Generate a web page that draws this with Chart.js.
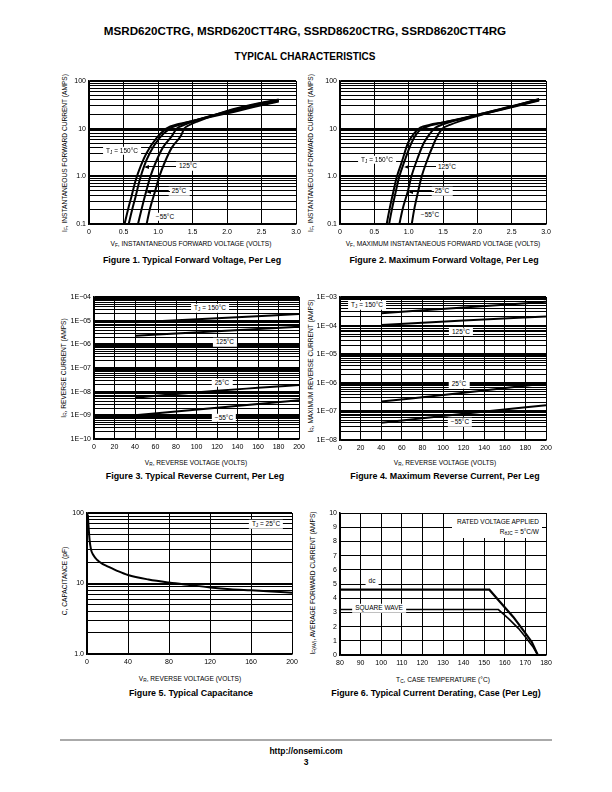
<!DOCTYPE html>
<html><head><meta charset="utf-8">
<script src="https://cdn.jsdelivr.net/npm/chart.js@4"></script>
<style>
body{margin:0;background:#fff;}
#page{position:relative;width:612px;height:792px;overflow:hidden;font-family:'Liberation Sans',Arial,sans-serif;color:#000;background:#fff;}
.t{position:absolute;white-space:nowrap;line-height:1;transform:translate(-50%,-50%);}
.r{transform:translate(-50%,-50%) rotate(-90deg);}
.ax{font-size:6.6px;}
.cap{font-size:8.9px;font-weight:bold;}
.lb{background:#fff;padding:1px 3px;font-size:6.5px;z-index:2;}
canvas{position:absolute;}
sub{font-size:72%;vertical-align:-0.3em;line-height:0;}
.ln{position:absolute;height:1px;background:#000;z-index:2;}
.ar{position:absolute;width:0;height:0;border-top:2px solid transparent;border-bottom:2px solid transparent;border-right:5px solid #000;z-index:2;}
</style></head><body><div id="page">

<div class="t" style="left:305px;top:31px;font-size:11.65px;font-weight:bold">MSRD620CTRG, MSRD620CTT4RG, SSRD8620CTRG, SSRD8620CTT4RG</div>
<div class="t" style="left:305px;top:57px;font-size:10px;font-weight:bold">TYPICAL CHARACTERISTICS</div>

<!-- Figure 1 texts -->
<div class="t ax" style="left:191px;top:244px">V<sub>F</sub>, INSTANTANEOUS FORWARD VOLTAGE (VOLTS)</div>
<div class="t ax r" style="left:65px;top:153px">I<sub>F</sub>, INSTANTANEOUS FORWARD CURRENT (AMPS)</div>
<div class="t cap" style="left:192px;top:259.5px">Figure 1. Typical Forward Voltage, Per Leg</div>
<div class="t lb" style="left:122px;top:150.5px">T<sub>J</sub> = 150°C</div>
<div class="t lb" style="left:188px;top:166px">125°C</div>
<div class="t lb" style="left:179px;top:191px">25°C</div>
<div class="t lb" style="left:165px;top:216.5px">−55°C</div>
<div class="ln" style="left:146px;top:166px;width:30px"></div><div class="ar" style="left:144px;top:164.5px"></div>
<div class="ln" style="left:148px;top:191px;width:22px"></div><div class="ar" style="left:146px;top:189.5px"></div>

<!-- Figure 2 texts -->
<div class="t ax" style="left:443px;top:244px">V<sub>F</sub>, MAXIMUM INSTANTANEOUS FORWARD VOLTAGE (VOLTS)</div>
<div class="t ax r" style="left:311px;top:153px">I<sub>F</sub>, INSTANTANEOUS FORWARD CURRENT (AMPS)</div>
<div class="t cap" style="left:444px;top:259.5px">Figure 2. Maximum Forward Voltage, Per Leg</div>
<div class="t lb" style="left:377px;top:159.5px">T<sub>J</sub> = 150°C</div>
<div class="t lb" style="left:447px;top:166.5px">125°C</div>
<div class="t lb" style="left:442px;top:191px">25°C</div>
<div class="t lb" style="left:430px;top:214.5px">−55°C</div>
<div class="ln" style="left:406px;top:166px;width:30px"></div><div class="ar" style="left:404px;top:164.5px"></div>
<div class="ln" style="left:410px;top:191px;width:24px"></div><div class="ar" style="left:408px;top:189.5px"></div>

<!-- Figure 3 texts -->
<div class="t ax" style="left:196px;top:463px">V<sub>R</sub>, REVERSE VOLTAGE (VOLTS)</div>
<div class="t ax r" style="left:64px;top:368px">I<sub>R</sub>, REVERSE CURRENT (AMPS)</div>
<div class="t cap" style="left:195px;top:475.5px">Figure 3. Typical Reverse Current, Per Leg</div>
<div class="t lb" style="left:210px;top:308px">T<sub>J</sub> = 150°C</div>
<div class="t lb" style="left:225px;top:342px">125°C</div>
<div class="t lb" style="left:222px;top:382.5px">25°C</div>
<div class="t lb" style="left:224px;top:417.5px">−55°C</div>

<!-- Figure 4 texts -->
<div class="t ax" style="left:445px;top:463px">V<sub>R</sub>, REVERSE VOLTAGE (VOLTS)</div>
<div class="t ax r" style="left:311px;top:366px">I<sub>R</sub>, MAXIMUM REVERSE CURRENT (AMPS)</div>
<div class="t cap" style="left:445px;top:475.5px">Figure 4. Maximum Reverse Current, Per Leg</div>
<div class="t lb" style="left:367px;top:305px">T<sub>J</sub> = 150°C</div>
<div class="t lb" style="left:461px;top:331.5px">125°C</div>
<div class="t lb" style="left:459px;top:384px">25°C</div>
<div class="t lb" style="left:460px;top:422px">−55°C</div>

<!-- Figure 5 texts -->
<div class="t ax" style="left:190px;top:679px">V<sub>R</sub>, REVERSE VOLTAGE (VOLTS)</div>
<div class="t ax r" style="left:65px;top:581px">C, CAPACITANCE (pF)</div>
<div class="t cap" style="left:191px;top:692.5px">Figure 5. Typical Capacitance</div>
<div class="t lb" style="left:266px;top:524px">T<sub>J</sub> = 25°C</div>

<!-- Figure 6 texts -->
<div class="t ax" style="left:443px;top:680px">T<sub>C</sub>, CASE TEMPERATURE (°C)</div>
<div class="t ax r" style="left:313px;top:583px">I<sub>F(AV)</sub>, AVERAGE FORWARD CURRENT (AMPS)</div>
<div class="t cap" style="left:436px;top:692.5px">Figure 6. Typical Current Derating, Case (Per Leg)</div>
<div style="position:absolute;left:452px;top:514px;width:90px;box-sizing:border-box;padding:2.5px 3px 1px;line-height:10px;text-align:right;font-size:6.5px;background:#fff;z-index:2;white-space:nowrap">RATED VOLTAGE APPLIED<br>R<sub>θJC</sub> = 5°C/W</div>
<div class="t lb" style="left:372px;top:581px">dc</div>
<div class="t lb" style="left:379px;top:608px">SQUARE WAVE</div>

<!-- footer -->
<div style="position:absolute;left:60px;top:739px;width:492px;height:1.5px;background:#aaa"></div>
<div class="t" style="left:306px;top:751px;font-size:8.5px;font-weight:bold">http://onsemi.com</div>
<div class="t" style="left:306px;top:762px;font-size:8.5px;font-weight:bold">3</div>

</div>
<script>
// ---------- Figure 1: typical forward voltage ----------
const fig1XTicks = [0, 0.5, 1, 1.5, 2, 2.5, 3];
const fig1XLabels = ['0', '0.5', '1.0', '1.5', '2.0', '2.5', '3.0'];
const fig1YTicks = [0.1, 1, 10, 100];
const fig1YLabels = ['0.1', '1.0', '10', '100'];
const fig1V150 = [0.515, 0.565, 0.615, 0.678, 0.75, 0.833, 0.978, 1.12, 1.3, 1.5, 2.0, 2.5, 2.75];
const fig1I150 = [0.1, 0.2, 0.375, 0.84, 1.66, 3.05, 6.3, 10, 12.5, 14.5, 21, 31, 37];
const fig1V125 = [0.575, 0.625, 0.675, 0.735, 0.80, 0.88, 1.02, 1.17, 1.33, 1.5, 2.0, 2.5, 2.75];
const fig1I125 = [0.1, 0.2, 0.375, 0.84, 1.66, 3.05, 6.3, 10, 12.3, 14.5, 22, 32.5, 38.5];
const fig1V25 = [0.71, 0.76, 0.83, 0.89, 0.97, 1.07, 1.2, 1.27, 1.38, 1.52, 2.0, 2.5, 2.75];
const fig1I25 = [0.1, 0.2, 0.49, 1, 2, 4, 7, 10, 12, 14.5, 23, 34, 40];
const fig1Vm55 = [0.835, 0.88, 0.96, 1.02, 1.1, 1.2, 1.33, 1.38, 1.45, 1.56, 2.0, 2.5, 2.75];
const fig1Im55 = [0.1, 0.2, 0.5, 1, 2, 4, 7, 10, 11.8, 14, 23.5, 35, 41];

// ---------- Figure 2: maximum forward voltage ----------
const fig2XTicks = [0, 0.5, 1, 1.5, 2, 2.5, 3];
const fig2XLabels = ['0', '0.5', '1.0', '1.5', '2.0', '2.5', '3.0'];
const fig2YTicks = [0.1, 1, 10, 100];
const fig2YLabels = ['0.1', '1.0', '10', '100'];
const fig2V150 = [0.68, 0.72, 0.78, 0.83, 0.90, 0.99, 1.08, 1.17, 1.3, 1.5, 2.0, 2.5, 2.9];
const fig2I150 = [0.1, 0.2, 0.5, 1, 2, 5, 8, 10.5, 12, 13.5, 19, 28, 39];
const fig2V125 = [0.715, 0.755, 0.815, 0.865, 0.935, 1.04, 1.12, 1.2, 1.32, 1.5, 2.0, 2.5, 2.9];
const fig2I125 = [0.1, 0.2, 0.5, 1, 2, 5, 8, 10, 11.7, 13.5, 19.5, 29, 40];
const fig2V25 = [0.865, 0.91, 0.99, 1.04, 1.11, 1.22, 1.3, 1.37, 1.5, 2.0, 2.5, 2.9];
const fig2I25 = [0.1, 0.2, 0.5, 1, 2, 5, 7.5, 10, 12.3, 19.5, 29.5, 41];
const fig2Vm55 = [1.045, 1.08, 1.14, 1.19, 1.26, 1.37, 1.43, 1.49, 1.6, 2.0, 2.5, 2.9];
const fig2Im55 = [0.1, 0.2, 0.5, 1, 2, 5, 7.5, 10, 12, 18.5, 29, 42];

// ---------- Figure 3: typical reverse current ----------
const fig3XTicks = [0, 20, 40, 60, 80, 100, 120, 140, 160, 180, 200];
const fig3XLabels = ['0', '20', '40', '60', '80', '100', '120', '140', '160', '180', '200'];
const fig3YTicks = [1e-10, 1e-9, 1e-8, 1e-7, 1e-6, 1e-5, 1e-4];
const fig3YLabels = ['1E−10', '1E−09', '1E−08', '1E−07', '1E−06', '1E−05', '1E−04'];
const fig3V150 = [40, 120, 200];
const fig3I150 = [8.5e-6, 1.25e-5, 1.9e-5];
const fig3V125 = [40, 120, 200];
const fig3I125 = [2.3e-6, 3.6e-6, 5.5e-6];
const fig3V25 = [40, 80, 120, 160, 200];
const fig3I25 = [5.5e-9, 8e-9, 1.1e-8, 1.45e-8, 1.9e-8];
const fig3Vm55 = [40, 120, 200];
const fig3Im55 = [1.0e-9, 2.1e-9, 4.3e-9];

// ---------- Figure 4: maximum reverse current ----------
const fig4XTicks = [0, 20, 40, 60, 80, 100, 120, 140, 160, 180, 200];
const fig4XLabels = ['0', '20', '40', '60', '80', '100', '120', '140', '160', '180', '200'];
const fig4YTicks = [1e-8, 1e-7, 1e-6, 1e-5, 1e-4, 1e-3];
const fig4YLabels = ['1E−08', '1E−07', '1E−06', '1E−05', '1E−04', '1E−03'];
const fig4V150 = [40, 120, 200];
const fig4I150 = [2.7e-4, 4.3e-4, 6.8e-4];
const fig4V125 = [40, 120, 200];
const fig4I125 = [1.05e-4, 1.5e-4, 2.1e-4];
const fig4V25 = [40, 120, 200];
const fig4I25 = [2.2e-7, 4.5e-7, 9.5e-7];
const fig4Vm55 = [40, 120, 200];
const fig4Im55 = [4.0e-8, 8.2e-8, 1.65e-7];

// ---------- Figure 5: typical capacitance ----------
const fig5XTicks = [0, 40, 80, 120, 160, 200];
const fig5XLabels = ['0', '40', '80', '120', '160', '200'];
const fig5YTicks = [1, 10, 100];
const fig5YLabels = ['1.0', '10', '100'];
const fig5V = [0.8, 1.5, 2.5, 4, 6, 10, 15, 20, 30, 40, 60, 80, 100, 120, 140, 160, 180, 200];
const fig5C = [95, 65, 42, 30, 25.5, 21.5, 19, 17.5, 15, 13.2, 11.4, 10.3, 9.5, 8.8, 8.3, 8.0, 7.7, 7.4];

// ---------- Figure 6: current derating ----------
const fig6XTicks = [80, 90, 100, 110, 120, 130, 140, 150, 160, 170, 180];
const fig6XLabels = ['80', '90', '100', '110', '120', '130', '140', '150', '160', '170', '180'];
const fig6YTicks = [0, 1, 2, 3, 4, 5, 6, 7, 8, 9, 10];
const fig6YLabels = ['0', '1', '2', '3', '4', '5', '6', '7', '8', '9', '10'];
const fig6DcT = [80, 152.5, 157.7, 164.1, 169, 173.1, 176];
const fig6DcI = [4.6, 4.6, 3.73, 2.68, 1.74, 0.92, 0];
const fig6SqT = [80, 156.9, 161.8, 166.7, 170.7, 173.9, 176];
const fig6SqI = [3.2, 3.2, 2.56, 1.86, 1.15, 0.52, 0];

// ---------- helpers ----------
const FONT = "'Liberation Sans', Arial, sans-serif";
const YW = 30, PT = 8, PR = 10, XH = 16;

function isDecade(v) {
  const l = Math.log10(v);
  return Math.abs(l - Math.round(l)) < 1e-6;
}
function logGrid(min, max) {
  const out = [];
  const e0 = Math.round(Math.log10(min)), e1 = Math.round(Math.log10(max));
  for (let e = e0; e < e1; e++) {
    for (let k = 1; k < 10; k++) out.push(k * Math.pow(10, e));
  }
  out.push(max);
  return out;
}
function labelFor(vals, labels, v) {
  for (let i = 0; i < vals.length; i++) {
    const ref = vals[i];
    if (Math.abs(v - ref) <= Math.abs(ref) * 1e-6 + 1e-12) return labels[i];
  }
  return '';
}
function axis(isY, type, vals, labels) {
  const isLog = type === 'logarithmic';
  const min = vals[0], max = vals[vals.length - 1];
  const grid = isLog ? logGrid(min, max) : vals.slice();
  return {
    type: type, min: min, max: max,
    afterBuildTicks: a => { a.ticks = grid.map(v => ({ value: v })); },
    afterFit: s => { if (isY) s.width = YW; else s.height = XH; },
    grid: {
      color: '#000', drawTicks: false,
      lineWidth: ctx => (isLog && ctx.tick && isDecade(ctx.tick.value)) ? 2 : 1
    },
    border: { color: '#000', width: 1.5 },
    ticks: {
      autoSkip: false, maxRotation: 0, minRotation: 0,
      padding: isY ? 3 : 4, color: '#000',
      font: { family: FONT, size: 7 },
      callback: v => labelFor(vals, labels, v)
    }
  };
}
function series(xs, ys, width, smooth) {
  return {
    data: xs.map((x, i) => ({ x: x, y: ys[i] })),
    showLine: true, borderColor: '#000', borderWidth: width,
    pointRadius: 0, fill: false,
    cubicInterpolationMode: smooth ? 'monotone' : 'default',
    tension: 0
  };
}
function makeChart(box, xAxis, yAxis, datasets) {
  const c = document.createElement('canvas');
  const w = box.r - box.l + YW + PR, h = box.b - box.t + PT + XH;
  c.width = w; c.height = h;
  c.style.left = (box.l - YW) + 'px'; c.style.top = (box.t - PT) + 'px';
  c.style.width = w + 'px'; c.style.height = h + 'px';
  document.getElementById('page').appendChild(c);
  new Chart(c, {
    type: 'scatter',
    data: { datasets: datasets },
    options: {
      responsive: false, animation: false, devicePixelRatio: 1,
      layout: { padding: { left: 0, top: PT, right: PR, bottom: 0 } },
      plugins: { legend: { display: false }, tooltip: { enabled: false } },
      scales: { x: xAxis, y: yAxis }
    }
  });
}

makeChart({ l: 89, t: 81, r: 296, b: 224 },
  axis(false, 'linear', fig1XTicks, fig1XLabels),
  axis(true, 'logarithmic', fig1YTicks, fig1YLabels),
  [series(fig1V150, fig1I150, 2, true), series(fig1V125, fig1I125, 2, true),
   series(fig1V25, fig1I25, 2, true), series(fig1Vm55, fig1Im55, 2, true)]);

makeChart({ l: 340, t: 81, r: 546, b: 224 },
  axis(false, 'linear', fig2XTicks, fig2XLabels),
  axis(true, 'logarithmic', fig2YTicks, fig2YLabels),
  [series(fig2V150, fig2I150, 2, true), series(fig2V125, fig2I125, 2, true),
   series(fig2V25, fig2I25, 2, true), series(fig2Vm55, fig2Im55, 2, true)]);

makeChart({ l: 94, t: 297, r: 299, b: 439 },
  axis(false, 'linear', fig3XTicks, fig3XLabels),
  axis(true, 'logarithmic', fig3YTicks, fig3YLabels),
  [series(fig3V150, fig3I150, 2, true), series(fig3V125, fig3I125, 2, true),
   series(fig3V25, fig3I25, 2, true), series(fig3Vm55, fig3Im55, 2, true)]);

makeChart({ l: 340, t: 297, r: 546, b: 440 },
  axis(false, 'linear', fig4XTicks, fig4XLabels),
  axis(true, 'logarithmic', fig4YTicks, fig4YLabels),
  [series(fig4V150, fig4I150, 2, true), series(fig4V125, fig4I125, 2, true),
   series(fig4V25, fig4I25, 2, true), series(fig4Vm55, fig4Im55, 2, true)]);

makeChart({ l: 87, t: 513, r: 292, b: 654 },
  axis(false, 'linear', fig5XTicks, fig5XLabels),
  axis(true, 'logarithmic', fig5YTicks, fig5YLabels),
  [series(fig5V, fig5C, 2, true)]);

makeChart({ l: 340, t: 513, r: 546, b: 655 },
  axis(false, 'linear', fig6XTicks, fig6XLabels),
  axis(true, 'linear', fig6YTicks, fig6YLabels),
  [series(fig6DcT, fig6DcI, 2.2, false), series(fig6SqT, fig6SqI, 1.6, false)]);
</script>
</body></html>
